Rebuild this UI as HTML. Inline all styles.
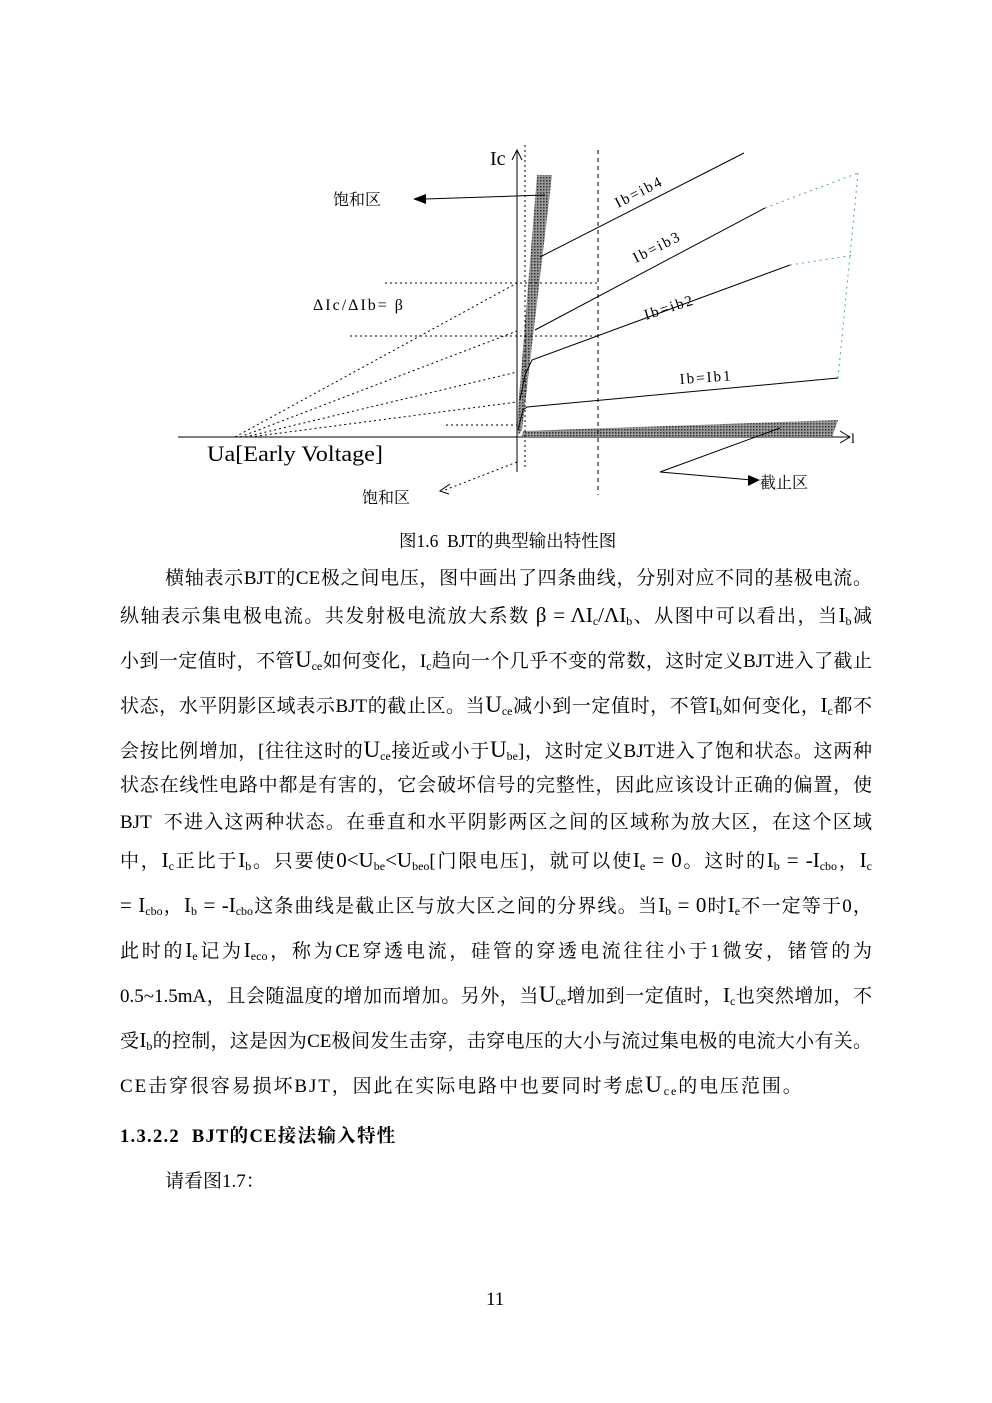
<!DOCTYPE html>
<html><head><meta charset="utf-8">
<style>
html,body{margin:0;padding:0;background:#fff;}
body{width:992px;height:1403px;position:relative;overflow:hidden;font-family:"Liberation Serif","Noto Serif CJK SC",serif;color:#000;}
.l{position:absolute;left:120px;width:752px;font-size:19px;line-height:24px;height:24px;white-space:nowrap;text-align:justify;text-align-last:justify;}
.l.i{left:165px;width:707px;}
.l.n{text-align:left;text-align-last:left;}
.u{font-size:23px;}
sub{font-size:12px;vertical-align:-3px;line-height:0;}
.I{font-size:21px;}
</style></head><body>
<svg width="992" height="520" style="position:absolute;left:0;top:0" xmlns="http://www.w3.org/2000/svg">
<defs>
<pattern id="dp" width="3" height="3" patternUnits="userSpaceOnUse"><rect width="3" height="3" fill="#999"/><rect width="1.5" height="1.5" fill="#333"/></pattern>
</defs>
<g fill="none" stroke="#000" stroke-width="1">
<line x1="517" y1="150" x2="517" y2="472"/>
<polyline points="512,160 517,150 522,160"/>
<line x1="178" y1="437" x2="850" y2="437"/>
<polyline points="840,431 850,437 840,443"/>
</g>
<polygon points="537,175 552,175 522,430 517,437 518,410" fill="url(#dp)"/>
<polygon points="522,437 523,431 838,420 832,437" fill="url(#dp)"/>
<g fill="none" stroke="#000" stroke-width="1" stroke-dasharray="2,3">
<line x1="525" y1="145" x2="525" y2="470"/>
<line x1="385" y1="283" x2="598" y2="283"/>
<line x1="350" y1="336" x2="598" y2="336"/>
<line x1="446" y1="425" x2="517" y2="425"/>
<line x1="235" y1="437" x2="517" y2="283"/>
<line x1="240" y1="437" x2="517" y2="331"/>
<line x1="245" y1="437" x2="517" y2="372"/>
<line x1="250" y1="437" x2="517" y2="402"/>
<line x1="517" y1="462" x2="445" y2="490"/>
</g>
<line x1="598" y1="150" x2="598" y2="495" stroke="#000" stroke-dasharray="4,4"/>
<g fill="none" stroke="#4aa" stroke-dasharray="2,4">
<line x1="765" y1="208" x2="858" y2="173"/>
<line x1="790" y1="265" x2="855" y2="255"/>
<line x1="858" y1="173" x2="838" y2="378"/>
</g>
<g fill="none" stroke="#000">
<polyline points="540,257 744,153"/>
<polyline points="535,330 765,208"/>
<polyline points="520,400 525,375 532,360 790,265"/>
<polyline points="518,430 523,410 527,407 838,378"/>
<line x1="545" y1="195" x2="425" y2="199"/>
<polyline points="780,428 660,472 752,480"/>
<polyline points="450,484 440,491 449,494"/>
</g>
<polygon points="413,199 426,194 426,204" fill="#000"/>
<polygon points="760,480 748,475 748,486" fill="#000"/>
<g font-family="Liberation Serif,serif" font-size="15" fill="#000">
<text x="618" y="208" transform="rotate(-27 618 208)" letter-spacing="2">Ib=ib4</text>
<text x="636" y="263" transform="rotate(-27 636 263)" letter-spacing="2">Ib=ib3</text>
<text x="646" y="320" transform="rotate(-18 646 320)" letter-spacing="2">Ib=ib2</text>
<text x="680" y="384" transform="rotate(-4 680 384)" letter-spacing="2">Ib=Ib1</text>
<text x="313" y="310" font-size="16" letter-spacing="2">ΔIc/ΔIb= β</text>
</g>
<text x="490" y="165" font-family="Liberation Serif,serif" font-size="20">Ic</text>
<text x="851" y="443" font-family="Liberation Serif,serif" font-size="14">l</text>
<text x="207" y="461" font-family="Liberation Serif,serif" font-size="22" textLength="176" lengthAdjust="spacingAndGlyphs">Ua[Early Voltage]</text>
<g font-family="Noto Serif CJK SC,serif" font-size="16">
<text x="333" y="205">饱和区</text>
<text x="362" y="503">饱和区</text>
<text x="760" y="488">截止区</text>
</g>
</svg>
<div class="l n" style="left:399px;top:529px;font-size:17.5px;">图1.6&nbsp; BJT的典型输出特性图</div>
<div class="l i" style="top:567px;">横轴表示BJT的CE极之间电压，图中画出了四条曲线，分别对应不同的基极电流。</div>
<div class="l" style="top:603px;">纵轴表示集电极电流。共发射极电流放大系数 <span class="I">β = ΛI<sub>c</sub>/ΛI<sub>b</sub></span>、从图中可以看出，当<span class="I">I</span><sub>b</sub>减</div>
<div class="l" style="top:648px;">小到一定值时，不管<span class="u">U</span><sub>ce</sub>如何变化，I<sub>c</sub>趋向一个几乎不变的常数，这时定义BJT进入了截止</div>
<div class="l" style="top:693px;">状态，水平阴影区域表示BJT的截止区。当<span class="u">U</span><sub>ce</sub>减小到一定值时，不管<span class="I">I</span><sub>b</sub>如何变化，<span class="I">I</span><sub>c</sub>都不</div>
<div class="l" style="top:738px;">会按比例增加，[往往这时的<span class="u">U</span><sub>ce</sub>接近或小于<span class="u">U</span><sub>be</sub>]，这时定义BJT进入了饱和状态。这两种</div>
<div class="l" style="top:774px;">状态在线性电路中都是有害的，它会破坏信号的完整性，因此应该设计正确的偏置，使</div>
<div class="l" style="top:811px;">BJT&nbsp; 不进入这两种状态。在垂直和水平阴影两区之间的区域称为放大区，在这个区域</div>
<div class="l" style="top:848px;">中，<span class="I">I</span><sub>c</sub>正比于<span class="I">I</span><sub>b</sub>。只要使<span class="I">0&lt;U</span><sub>be</sub><span class="I">&lt;U</span><sub>beo</sub>[门限电压]，就可以使<span class="I">I</span><sub>e</sub><span class="I"> = 0</span>。这时的<span class="I">I</span><sub>b</sub><span class="I"> = -I</span><sub>cbo</sub>，<span class="I">I</span><sub>c</sub></div>
<div class="l" style="top:893px;"><span class="I">= I</span><sub>cbo</sub>，<span class="I">I</span><sub>b</sub><span class="I"> = -I</span><sub>cbo</sub>这条曲线是截止区与放大区之间的分界线。当<span class="I">I</span><sub>b</sub><span class="I"> = 0</span>时<span class="I">I</span><sub>e</sub>不一定等于0，</div>
<div class="l" style="top:938px;">此时的<span class="I">I</span><sub>e</sub>记为<span class="I">I</span><sub>eco</sub>，称为CE穿透电流，硅管的穿透电流往往小于1微安，锗管的为</div>
<div class="l" style="top:983px;">0.5~1.5mA，且会随温度的增加而增加。另外，当<span class="u">U</span><sub>ce</sub>增加到一定值时，<span class="I">I</span><sub>c</sub>也突然增加，不</div>
<div class="l" style="top:1028px;">受<span class="I">I</span><sub>b</sub>的控制，这是因为CE极间发生击穿，击穿电压的大小与流过集电极的电流大小有关。</div>
<div class="l n" style="top:1073px;letter-spacing:1.9px;">CE击穿很容易损坏BJT，因此在实际电路中也要同时考虑<span class="u">U</span><sub>ce</sub>的电压范围。</div>
<div class="l n" style="top:1125px;font-weight:bold;font-size:18.5px;letter-spacing:1.3px;">1.3.2.2&nbsp; BJT的CE接法输入特性</div>
<div class="l n" style="left:165px;top:1170px;">请看图1.7：</div>
<div class="l n" style="left:486px;top:1288px;">11</div>
</body></html>
